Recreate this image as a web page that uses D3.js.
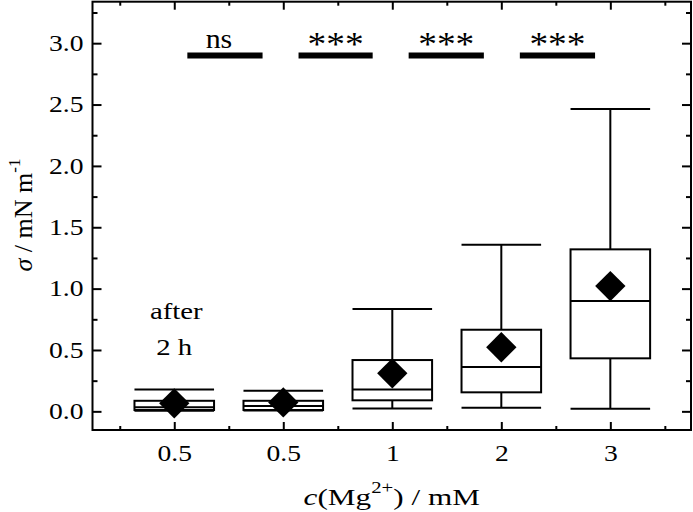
<!DOCTYPE html>
<html>
<head>
<meta charset="utf-8">
<script src="https://cdn.jsdelivr.net/npm/d3@7"></script>
<style>
  body { margin: 0; background: #fff; }
  svg { display: block; }
  text { font-family: "Liberation Serif", "Times New Roman", serif; fill: #000; }
</style>
</head>
<body>
<svg id="chart" width="693" height="512"></svg>
<script>
// ---- data ----
const categories = ["0.5", "0.5", "1", "2", "3"];
const whiskerLow  = [0.004, 0.006, 0.024, 0.030, 0.021];
const q1          = [0.011, 0.011, 0.090, 0.155, 0.432];
const median      = [0.033, 0.043, 0.179, 0.361, 0.899];
const q3          = [0.086, 0.086, 0.418, 0.665, 1.320];
const whiskerHigh = [0.179, 0.168, 0.834, 1.358, 2.464];
const meanValues  = [0.065, 0.073, 0.310, 0.522, 1.021];

const sigStart  = [0.12, 1.14, 2.15, 3.17];
const sigEnd    = [0.81, 1.82, 2.84, 3.86];
const sigLevel  = 2.9;
const sigLabels = ["ns", "***", "***", "***"];

const yMajorTicks = [0, 0.5, 1.0, 1.5, 2.0, 2.5, 3.0];
const yMinorTicks = [0.25, 0.75, 1.25, 1.75, 2.25, 2.75, 3.25];
const xMinorTicks = [-0.5, 0.5, 1.5, 2.5, 3.5, 4.5];

// ---- layout ----
const svg = d3.select("#chart");
const L = 92.5, R = 691, T = 1.7, B = 430;
const x = d3.scaleLinear().domain([-0.75, 4.74]).range([L, R]);
const y = d3.scaleLinear().domain([-0.152, 3.338]).range([B, T]);
const idx = categories.map((_, i) => i);
const boxHalf = 0.365;

// horizontal stretch of text, keeping its anchor point
function stretch(sel, sx) {
  sel.each(function () {
    const t = d3.select(this);
    const x0 = +t.attr("x") || 0;
    t.attr("x", x0 / sx).attr("transform", `scale(${sx},1)`);
  });
}

function styleAxis(g) {
  g.select(".domain").remove();
  g.selectAll(".tick line").attr("stroke", "#000").attr("stroke-width", 2);
}
svg.append("g").attr("transform", `translate(${L},0)`)
  .call(d3.axisLeft(y).tickValues(yMajorTicks).tickSize(-9).tickPadding(9).tickFormat(d3.format(".1f")))
  .call(styleAxis)
  .call(g => g.selectAll("text").attr("font-size", 23).attr("font-family", "Liberation Serif").call(stretch, 1.2));
svg.append("g").attr("transform", `translate(${L},0)`)
  .call(d3.axisLeft(y).tickValues(yMinorTicks).tickSize(-5).tickFormat(""))
  .call(styleAxis);
svg.append("g").attr("transform", `translate(${R},0)`)
  .call(d3.axisRight(y).tickValues(yMajorTicks).tickSize(-9).tickFormat(""))
  .call(styleAxis);
svg.append("g").attr("transform", `translate(${R},0)`)
  .call(d3.axisRight(y).tickValues(yMinorTicks).tickSize(-5).tickFormat(""))
  .call(styleAxis);

svg.append("g").attr("transform", `translate(0,${B})`)
  .call(d3.axisBottom(x).tickValues(idx).tickSize(-8).tickFormat(i => categories[i]))
  .call(styleAxis)
  .call(g => g.selectAll("text").attr("font-size", 23).attr("font-family", "Liberation Serif")
    .attr("dy", 0).attr("y", 31).call(stretch, 1.2));
svg.append("g").attr("transform", `translate(0,${B})`)
  .call(d3.axisBottom(x).tickValues(xMinorTicks).tickSize(-4).tickFormat(""))
  .call(styleAxis);
svg.append("g").attr("transform", `translate(0,${T})`)
  .call(d3.axisTop(x).tickValues(idx).tickSize(-8).tickFormat(""))
  .call(styleAxis);
svg.append("g").attr("transform", `translate(0,${T})`)
  .call(d3.axisTop(x).tickValues(xMinorTicks).tickSize(-4).tickFormat(""))
  .call(styleAxis);

// frame
svg.append("rect").attr("x", L).attr("y", T).attr("width", R - L).attr("height", B - T)
  .attr("fill", "none").attr("stroke", "#000").attr("stroke-width", 2);

// boxes
const boxes = svg.append("g").attr("stroke", "#000").attr("stroke-width", 2).attr("fill", "none");
idx.forEach(i => {
  const g = boxes.append("g");
  g.append("line").attr("x1", x(i)).attr("x2", x(i)).attr("y1", y(whiskerHigh[i])).attr("y2", y(q3[i]));
  g.append("line").attr("x1", x(i)).attr("x2", x(i)).attr("y1", y(q1[i])).attr("y2", y(whiskerLow[i]));
  g.append("line").attr("x1", x(i - boxHalf)).attr("x2", x(i + boxHalf)).attr("y1", y(whiskerHigh[i])).attr("y2", y(whiskerHigh[i]));
  g.append("line").attr("x1", x(i - boxHalf)).attr("x2", x(i + boxHalf)).attr("y1", y(whiskerLow[i])).attr("y2", y(whiskerLow[i]));
  g.append("rect").attr("x", x(i - boxHalf)).attr("width", x(i + boxHalf) - x(i - boxHalf))
    .attr("y", y(q3[i])).attr("height", y(q1[i]) - y(q3[i])).attr("fill", "#fff");
  g.append("line").attr("x1", x(i - boxHalf)).attr("x2", x(i + boxHalf)).attr("y1", y(median[i])).attr("y2", y(median[i]));
});

// means
svg.append("g").selectAll("path").data(idx).join("path")
  .attr("d", d3.symbol(d3.symbolSquare, 460))
  .attr("transform", i => `translate(${x(i)},${y(meanValues[i])}) rotate(45)`)
  .attr("fill", "#000");

// significance bars
const sig = svg.append("g");
sigStart.forEach((s, k) => {
  sig.append("line").attr("x1", x(s)).attr("x2", x(sigEnd[k])).attr("y1", y(sigLevel)).attr("y2", y(sigLevel))
    .attr("stroke", "#000").attr("stroke-width", 6);
  const isNs = sigLabels[k] === "ns";
  sig.append("text").attr("x", x((s + sigEnd[k]) / 2) - (isNs ? 6 : 0)).attr("y", y(sigLevel) - (isNs ? 7 : 0))
    .attr("text-anchor", "middle").attr("font-size", isNs ? 28 : 34)
    .text(sigLabels[k])
    .call(stretch, isNs ? 1.07 : 1.1);
});

// annotation
svg.append("text").attr("x", x(0) + 2).attr("y", 319).attr("text-anchor", "middle").attr("font-size", 24).text("after").call(stretch, 1.2);
svg.append("text").attr("x", x(0)).attr("y", 355).attr("text-anchor", "middle").attr("font-size", 24).text("2 h").call(stretch, 1.2);

// x title
const xt = svg.append("text").attr("x", (L + R) / 2).attr("y", 505).attr("text-anchor", "middle").attr("font-size", 24);
xt.append("tspan").attr("font-style", "italic").text("c");
xt.append("tspan").text("(Mg");
xt.append("tspan").attr("font-size", 16).attr("dy", -12).text("2+");
xt.append("tspan").attr("dy", 12).text(") / mM");
xt.call(stretch, 1.3);

// y title
const yt = svg.append("text").attr("transform", `translate(32,215) rotate(-90)`).attr("text-anchor", "middle").attr("font-size", 26);
yt.append("tspan").attr("font-style", "italic").text("σ");
yt.append("tspan").text(" / mN m");
yt.append("tspan").attr("font-size", 17).attr("dy", -12).text("-1");
</script>
</body>
</html>
